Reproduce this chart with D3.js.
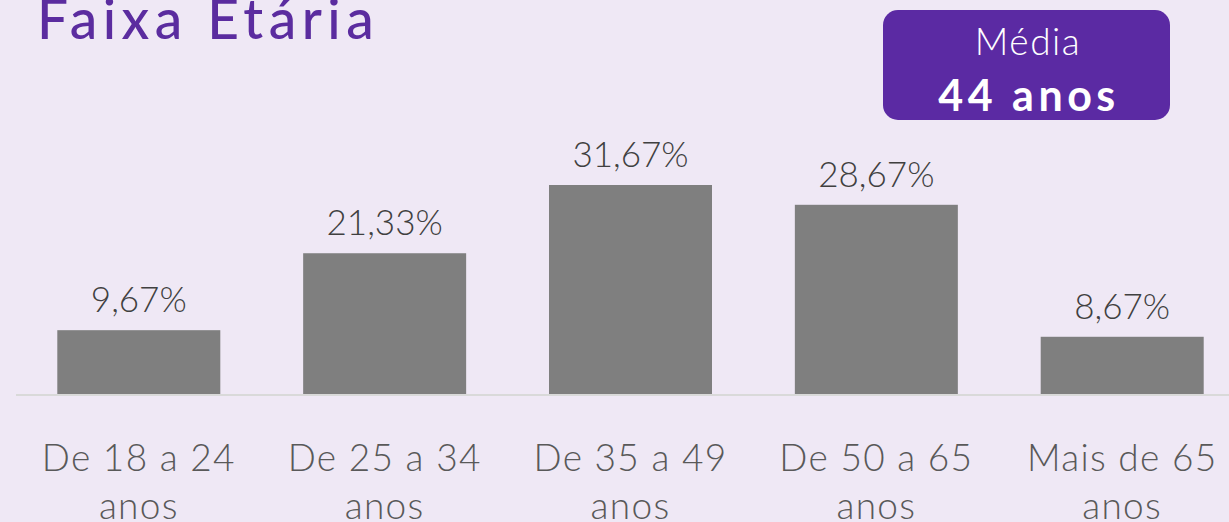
<!DOCTYPE html>
<html><head><meta charset="utf-8">
<script src="https://cdn.jsdelivr.net/npm/d3@7"></script>
<style>
html,body{margin:0;padding:0;background:#EFE8F5;}
svg{display:block;}
</style></head>
<body>
<svg id="c" width="1229" height="522"></svg>
<script>
const categories = ["De 18 a 24|anos","De 25 a 34|anos","De 35 a 49|anos","De 50 a 65|anos","Mais de 65|anos"];
const values = [9.67, 21.33, 31.67, 28.67, 8.67];
const valueLabels = ["9,67%","21,33%","31,67%","28,67%","8,67%"];
const titleText = "Faixa Etária";
const badgeLines = ["Média","44 anos"];

const svg = d3.select("#c");
const W = 1229, H = 522;
svg.append("rect").attr("width",W).attr("height",H).attr("fill","#EFE8F5");

const baseY = 394;
const x = d3.scaleBand().domain(d3.range(categories.length)).range([16, 1245]).paddingInner(0.337).paddingOuter(0.168);
const y = d3.scaleLinear().domain([0, 31.67]).range([baseY, 185]);

svg.selectAll("rect.bar").data(values).enter().append("rect")
  .attr("class","bar")
  .attr("x",(d,i)=>x(i)).attr("width",x.bandwidth())
  .attr("y",d=>y(d)).attr("height",d=>baseY-y(d))
  .attr("fill","#7F7F7F");

svg.append("line").attr("x1",16).attr("x2",W).attr("y1",baseY+1).attr("y2",baseY+1)
  .attr("stroke","#D9D9D9").attr("stroke-width",2);

svg.selectAll("text.val").data(values).enter().append("text")
  .attr("class","val")
  .attr("x",(d,i)=>x(i)+x.bandwidth()/2)
  .attr("y",d=>y(d)-18)
  .attr("text-anchor","middle")
  .attr("font-family","Lato, 'Noto Sans', sans-serif")
  .attr("font-weight",300)
  .attr("font-size",35)
  .attr("fill","#404040")
  .text((d,i)=>valueLabels[i]);

const cat = svg.selectAll("text.cat").data(categories).enter().append("text")
  .attr("class","cat")
  .attr("text-anchor","middle")
  .attr("font-family","Lato, 'Noto Sans', sans-serif")
  .attr("font-weight",300)
  .attr("font-size",37)
  .attr("letter-spacing",1.3)
  .attr("fill","#595959");
cat.each(function(d,i){
  const parts = d.split("|");
  const t = d3.select(this);
  parts.forEach((p,j)=>{
    t.append("tspan").attr("x",x(i)+x.bandwidth()/2).attr("y",471+j*48).text(p);
  });
});

svg.append("text").attr("x",37).attr("y",39)
  .attr("font-family","Lato, 'Noto Sans', sans-serif")
  .attr("font-weight",500)
  .attr("font-size",55)
  .attr("letter-spacing",5.5)
  .attr("fill","#5B2C9F")
  .text(titleText);

svg.append("rect").attr("x",883).attr("y",10).attr("width",287).attr("height",110)
  .attr("rx",15).attr("fill","#5B2AA3");
svg.append("text").attr("x",1028).attr("y",55).attr("text-anchor","middle")
  .attr("font-family","Lato, 'Noto Sans', sans-serif").attr("font-weight",300)
  .attr("font-size",37).attr("letter-spacing",1.5).attr("fill","#fff").text(badgeLines[0]);
svg.append("text").attr("x",1029).attr("y",111).attr("text-anchor","middle")
  .attr("font-family","Lato, 'Noto Sans', sans-serif").attr("font-weight",700)
  .attr("font-size",43).attr("letter-spacing",4.5).attr("fill","#fff").text(badgeLines[1]);
</script>
</body></html>
